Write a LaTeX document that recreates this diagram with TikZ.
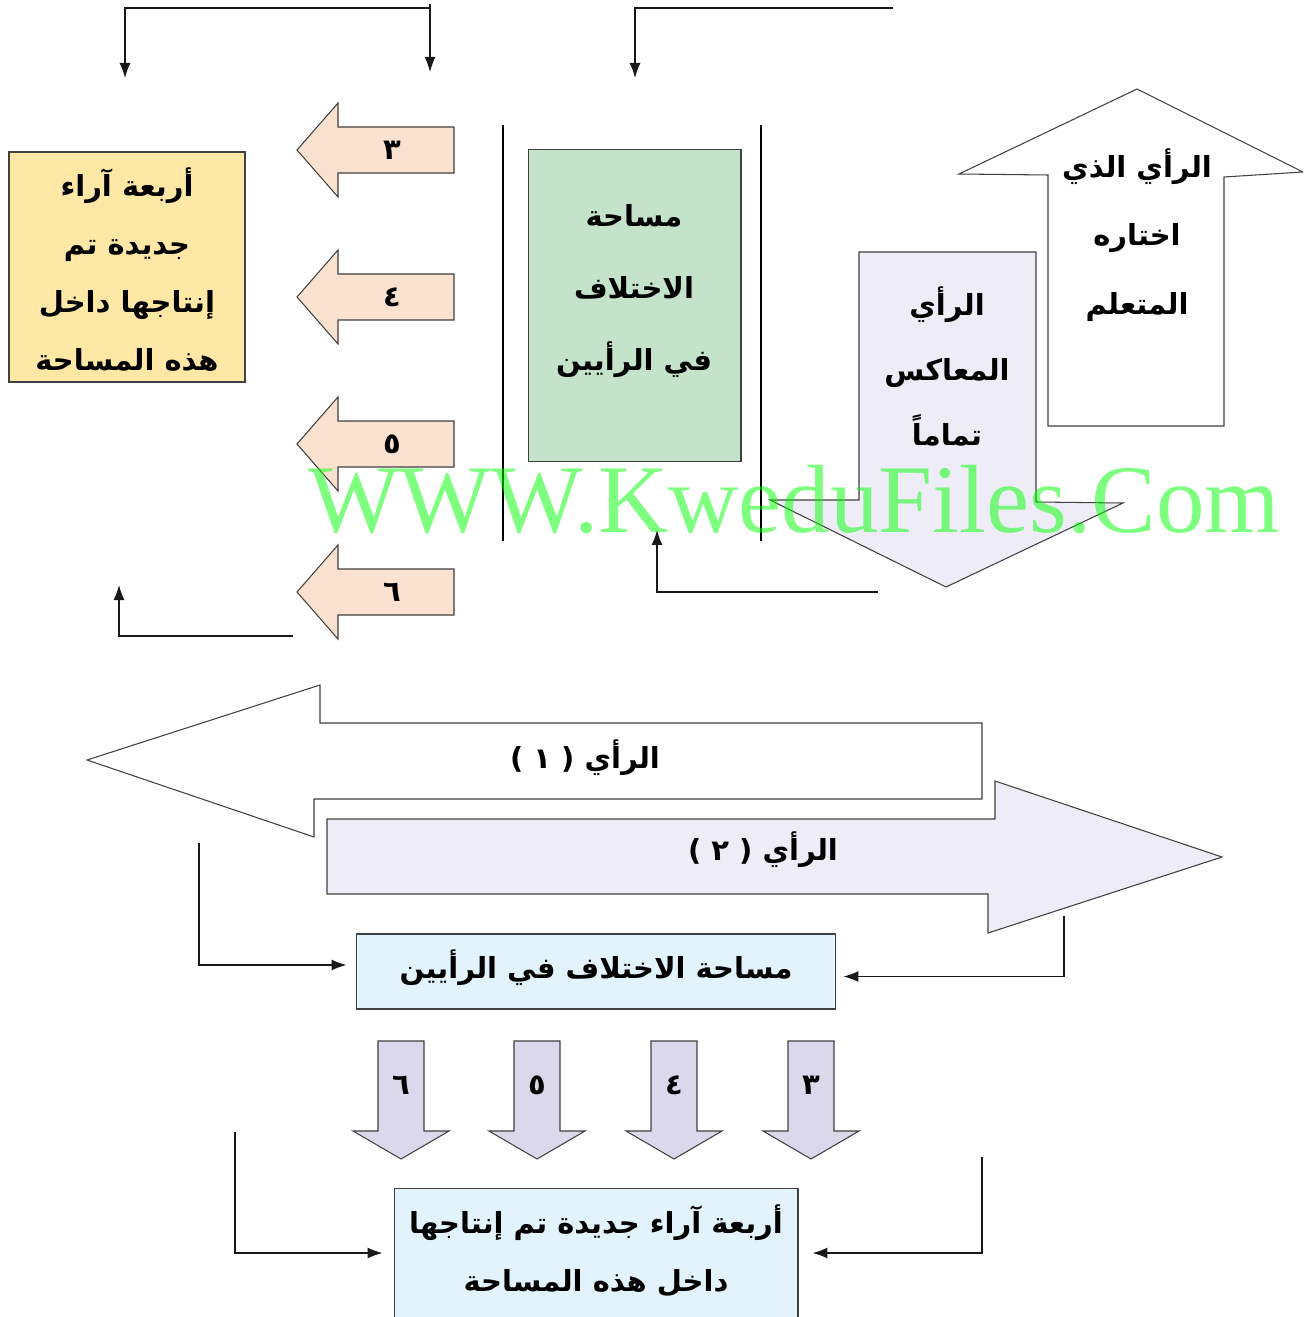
\documentclass[tikz,border=0pt]{standalone}
\usepackage{fontspec}
\setmainfont{Liberation Serif}
\newfontfamily\arabicfont[Script=Arabic]{DejaVu Sans}
\TeXXeTstate=1
\usetikzlibrary{arrows.meta}
\definecolor{boxyellow}{HTML}{FFE8A6}
\definecolor{arrowpink}{HTML}{FBE2D0}
\definecolor{areagreen}{HTML}{C5E3CA}
\definecolor{oppviolet}{HTML}{EEEDF7}
\definecolor{numviolet}{HTML}{DCD8EC}
\definecolor{boxblue}{HTML}{E3F3FC}
\newcommand{\artxt}[1]{{\arabicfont\bfseries\beginR #1\endR}}

\begin{document}
\begin{tikzpicture}[x=0.02cm, y=-0.02cm,
    shapeline/.style={draw=black!75, line width=0.6pt},
    link/.style={line width=0.75pt, draw=black!90, -{Latex[length=3mm,width=2.2mm]}},
    txt/.style={align=center, inner sep=0pt, font=\fontsize{16.5}{#1}\selectfont},
    txt/.default=33pt]
    \useasboundingbox (0,0) rectangle (1303,1317);
    \clip (0,0) rectangle (1303,1317);

    % top connectors
    \coordinate (ta) at (430,4);
    \coordinate (tb) at (430,72);
    \coordinate (tj) at (430,8);
    \coordinate (tc) at (125,78);
    \coordinate (td) at (893,8);
    \coordinate (te) at (635,78);
    \draw[link] (ta) -- (tb);
    \draw[link] (tj) -| (tc);
    \draw[link] (td) -| (te);

    % four new views (top)
    \node at (127,267) [shapeline, fill=boxyellow, minimum width=4.72cm, minimum height=4.6cm] (newbox) {};
    \node at (127,270) [txt] (newtxt) {\artxt{أربعة آراء}\\\artxt{جديدة تم}\\\artxt{إنتاجها داخل}\\\artxt{هذه المساحة}};

    \foreach \num/\y [count=\i] in {٣/150,٤/297,٥/444,٦/592} {
        \draw[shapeline, fill=arrowpink] (454,\y-23) -- (338,\y-23) -- (338,\y-47) -- (297,\y)
            -- (338,\y+47) -- (338,\y+23) -- (454,\y+23) -- cycle;
        \node at (392,\y) [txt] (left\i) {\artxt{\num}};
    }

    \draw[line width=1.2pt] (503,125) -- (503,541);
    \draw[line width=1.2pt] (761,125) -- (761,541);

    \node at (634.5,305.5) [shapeline, fill=areagreen, minimum width=4.26cm, minimum height=6.24cm] (area) {};
    \node at (634,291) [txt=41pt] (areatxt) {\artxt{مساحة}\\\artxt{الاختلاف}\\\artxt{في الرأيين}};

    % opposite view / chosen view
    \draw[shapeline, fill=oppviolet] (859,252) -- (1036,252) -- (1036,502) -- (1123,503) -- (946,587)
        -- (770,500) -- (859,500) -- cycle;
    \node at (947,366) [txt=37pt] (opptxt) {\artxt{الرأي}\\\artxt{المعاكس}\\\artxt{تماماً}};
    \draw[shapeline, fill=white] (1137,89) -- (1303,172) -- (1224,177) -- (1224,426) -- (1048,426)
        -- (1048,175) -- (959,174) -- cycle;
    \node at (1137,235) [txt=39pt] (chosentxt) {\artxt{الرأي الذي}\\\artxt{اختاره}\\\artxt{المتعلم}};

    \coordinate (ua) at (878,592);
    \coordinate (ub) at (657,530);
    \draw[link] (ua) -| (ub);
    \coordinate (va) at (293,636);
    \coordinate (vb) at (119,585);
    \draw[link] (va) -| (vb);

    % view 1 and view 2
    \draw[shapeline, fill=white] (87,760) -- (320,685) -- (320,723) -- (982,723) -- (982,799)
        -- (314,799) -- (314,837) -- cycle;
    \node at (585,758) [txt] (view1) {\artxt{الرأي ( ١ )}};
    \draw[shapeline, fill=oppviolet] (1222,857) -- (988,933) -- (988,894) -- (327,894) -- (327,819)
        -- (995,819) -- (995,781) -- cycle;
    \node at (763,850) [txt] (view2) {\artxt{الرأي ( ٢ )}};

    \node at (596,971.5) [shapeline, fill=boxblue, minimum width=9.6cm, minimum height=1.5cm] (diff) {};
    \node at (596,968) [txt] (difftxt) {\artxt{مساحة الاختلاف في الرأيين}};
    \coordinate (wa) at (199,843);
    \coordinate (xa) at (1064,916);
    \draw[link] (wa) |- ([xshift=-0.18cm,yshift=0.13cm]diff.west);
    \draw[link] (xa) |- ([xshift=0.14cm,yshift=-0.1cm]diff.east);

    \foreach \num/\x [count=\i] in {٦/401,٥/537,٤/674,٣/811} {
        \draw[shapeline, fill=numviolet] (\x-23,1041) -- (\x+23,1041) -- (\x+23,1131) -- (\x+48,1131)
            -- (\x,1159) -- (\x-48,1131) -- (\x-23,1131) -- cycle;
        \node at (\x,1085) [txt] (down\i) {\artxt{\num}};
    }

    \node at (596,1258) [shapeline, fill=boxblue, minimum width=8.08cm, minimum height=2.8cm] (newviews) {};
    \node at (596,1251) [txt=33pt] (newviewstxt) {\artxt{أربعة آراء جديدة تم إنتاجها}\\\artxt{داخل هذه المساحة}};
    \coordinate (ya) at (235,1132);
    \coordinate (za) at (982,1157);
    \draw[link] (ya) |- ([xshift=-0.22cm,yshift=0.1cm]newviews.west);
    \draw[link] (za) |- ([xshift=0.28cm,yshift=0.1cm]newviews.east);

    % watermark
    \node at (308,532) [anchor=base west, inner sep=0pt, text=green, text opacity=0.5,
        font=\fontsize{55.2}{55}\selectfont] (mark) {WWW.KweduFiles.Com};
\end{tikzpicture}
\end{document}
